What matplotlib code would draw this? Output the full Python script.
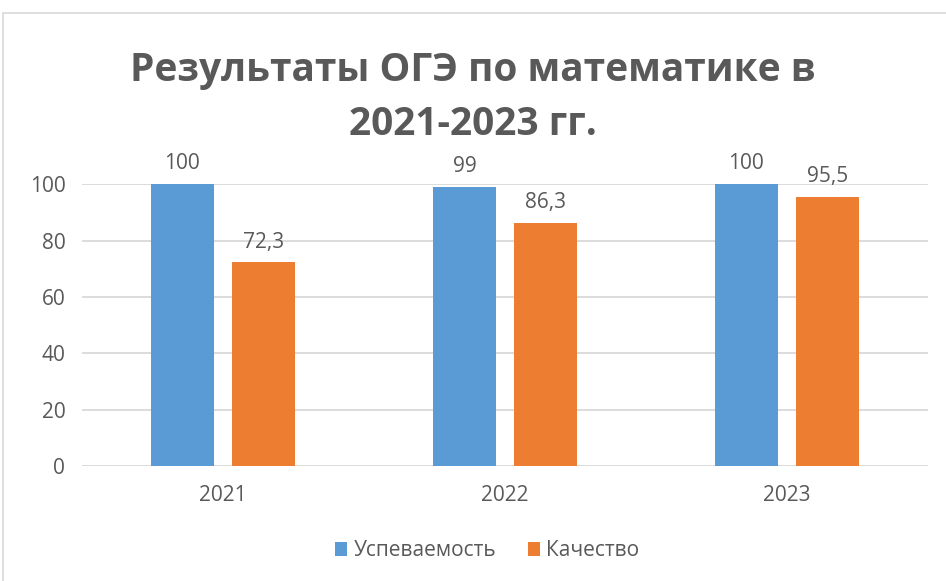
import numpy as np
import matplotlib
matplotlib.use('Agg')
import matplotlib.pyplot as plt
from matplotlib.patches import Rectangle

# data
years = ['2021', '2022', '2023']
uspev = [100, 99, 100]
kach = [72.3, 86.3, 95.5]
series_names = ['Успеваемость', 'Качество']

plt.rcParams['font.family'] = ['Open Sans', 'DejaVu Sans']
text_col = '#595959'
blue = '#5B9BD5'
orange = '#ED7D31'

fig = plt.figure(figsize=(9.46, 5.81), dpi=100)
ax = fig.add_axes([0.0867, 0.198, 0.8943, 0.485])

# chart border
fig.patches.append(Rectangle((0.0035, -0.1), 1.1, 1.078, transform=fig.transFigure,
                             fill=False, edgecolor='#D9D9D9', linewidth=1.2))

x = np.arange(len(years))
w = 0.223
off = 0.144
b1 = ax.bar(x - off, uspev, w, color=blue, label=series_names[0], zorder=3)
b2 = ax.bar(x + off, kach, w, color=orange, label=series_names[1], zorder=3)

def fmt(v):
    return str(v).replace('.', ',') if v != int(v) else str(int(v))

for bars, vals in ((b1, uspev), (b2, kach)):
    for r, v in zip(bars, vals):
        ax.annotate(fmt(v), (r.get_x() + r.get_width() / 2, v), xytext=(0, 7),
                    textcoords='offset points', ha='center', va='bottom',
                    fontsize=15, color=text_col, annotation_clip=False)

ax.set_xlim(-0.5, 2.5)
ax.set_ylim(0, 100)
ax.set_yticks(range(0, 101, 20))
ax.set_xticks(x)
ax.set_xticklabels(years)
ax.tick_params(axis='both', length=0, labelsize=15, colors=text_col)
ax.tick_params(axis='x', pad=14)
ax.tick_params(axis='y', pad=12)
ax.yaxis.grid(True, color='#D9D9D9', linewidth=1.3, zorder=0)
ax.set_axisbelow(True)
for s in ax.spines.values():
    s.set_visible(False)

fig.text(0.5, 0.878, 'Результаты ОГЭ по математике в', ha='center', va='center',
         fontsize=28, fontweight='bold', color=text_col)
fig.text(0.5, 0.785, '2021-2023 гг.', ha='center', va='center',
         fontsize=28, fontweight='bold', color=text_col)

leg = fig.legend(loc='center', bbox_to_anchor=(0.515, 0.052), ncol=2, frameon=False,
                 fontsize=15, handlelength=0.6, handleheight=0.6, handletextpad=0.3,
                 columnspacing=1.5)
for t in leg.get_texts():
    t.set_color(text_col)

fig.savefig('out.png', dpi=100)
